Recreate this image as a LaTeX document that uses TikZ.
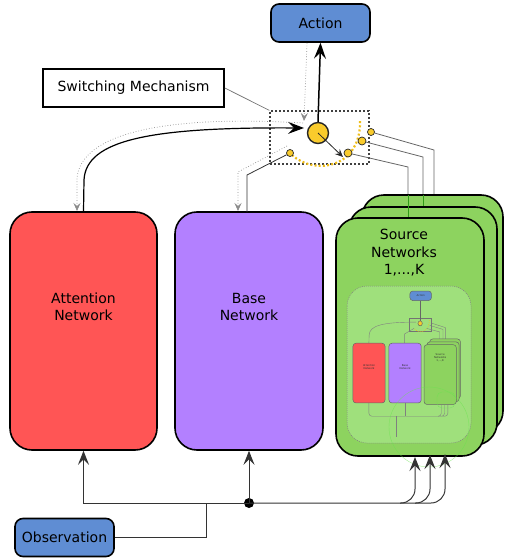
\documentclass[tikz,border=0pt]{standalone}
\usepackage{fontspec}
\setmainfont{DejaVu Sans}
\usetikzlibrary{arrows.meta}
\definecolor{boxblue}{HTML}{5F8DD3}
\definecolor{boxred}{HTML}{FF5555}
\definecolor{boxpurple}{HTML}{B380FF}
\definecolor{boxgreen}{HTML}{8DD35F}
\definecolor{innergreen}{HTML}{9FE07C}
\definecolor{brightgreen}{HTML}{44DD22}
\definecolor{gate}{HTML}{F9CB2C}
\definecolor{gatedots}{HTML}{EFBE1A}
\tikzset{
  netbox/.style={draw=black, line width=1.6pt, rounded corners=22pt,
    minimum width=147pt, minimum height=238pt, inner sep=0pt},
  nettext/.style={align=center, font=\fontsize{14}{17.5}\selectfont},
  iobox/.style={draw=black, line width=1.6pt, rounded corners=8pt, fill=boxblue,
    minimum width=99pt, minimum height=38pt, inner sep=0pt, font=\fontsize{14}{17}\selectfont},
  bigtip/.style={-{Stealth[length=16pt,width=12pt,inset=6pt]}},
  midtip/.style={-{Stealth[length=14pt,width=11pt,inset=5.5pt]}},
  smalltip/.style={-{Stealth[length=8pt,width=7pt,inset=3pt]}},
  feed/.style={draw=black!80, line width=1pt},
  ghost/.style={draw=black!45, line width=0.7pt, dotted},
  wire/.style={draw=black!60, line width=0.8pt},
  port/.style={circle, draw=black!85, fill=gate, line width=0.7pt, inner sep=0pt},
  minibox/.style={draw=black!60, line width=0.5pt, rounded corners=3pt},
  minitext/.style={font=\fontsize{2.6}{3}\selectfont, align=center, text=black!80}
}
\begin{document}
\begin{tikzpicture}[x=1pt, y=-1pt]
\useasboundingbox (0,0) rectangle (504,559);

% ---------- main blocks ----------
\node[iobox] (action) at (320.5,23) {Action};
\node[iobox] (obs) at (64.5,537.5) {Observation};
\node[draw=black, line width=1.6pt, fill=white, minimum width=181pt, minimum height=38pt,
  inner sep=0pt, font=\fontsize{14}{17}\selectfont] (label) at (133.5,88) {Switching Mechanism};

\node[netbox, fill=boxred] (att) at (83.5,331) {};
\node[nettext] (atttext) at (83.5,307) {Attention\\Network};
\node[netbox, fill=boxpurple, minimum width=148pt] (base) at (249,331) {};
\node[nettext] (basetext) at (249,307) {Base\\Network};

% switching gate
\node[draw=black!75, line width=1.3pt, dash pattern=on 2.2pt off 1.8pt,
  minimum width=99pt, minimum height=53pt, inner sep=0pt] (switch) at (319.5,137.5) {};
\draw[gatedots, line width=2.2pt, dash pattern=on 2pt off 2.2pt]
  (292,155) .. controls (315,176) and (362,168) .. (360,119);
\node[port, line width=1.4pt, minimum size=21pt] (gatec) at (318,133) {};
\node[port, minimum size=7pt] (pb) at (290,153) {};
\node[port, minimum size=8pt] (p3) at (348,153) {};
\node[port, minimum size=8pt] (p2) at (362,141) {};
\node[port, minimum size=7pt] (p1) at (371,132) {};
\draw[black!85, line width=0.8pt, smalltip] (gatec.center) -- (343,157);

\draw[black!55, line width=0.7pt] (label.east) -- (switch.north west);

% source network stack
\coordinate (s1top) at (434,195);
\coordinate (s2top) at (423,207);
\coordinate (s3top) at (408,218);
\draw[wire] (p1) -- (434,150) -- (s1top);
\draw[wire] (p2) -- (423,157) -- (s2top);
\draw[wire] (p3) -- (408,167) -- (s3top);

\node[netbox, fill=boxgreen, minimum width=141pt] (src1) at (432.5,314) {};
\draw[brightgreen!70!black, line width=0.8pt] (423,195) -- (423,207);
\node[netbox, fill=boxgreen, minimum width=148pt] (src2) at (423,326) {};
\draw[brightgreen!70!black, line width=0.8pt] (408,195) -- (408,218);
\node[netbox, fill=boxgreen, minimum width=148pt] (src3) at (410,337) {};
\node[nettext] (srctext) at (404,253) {Source\\Networks\\1,...,K};

% nested view of the whole model inside the source block
\draw[black!50, line width=0.5pt, dash pattern=on 1pt off 1pt, fill=innergreen,
  rounded corners=20pt] (347,286) rectangle (471,443);
\begin{scope}[shift={(350.8,290)}, xscale=0.218, yscale=0.251]
  \draw[minibox, fill=boxblue] (271,4) rectangle (370,42);
  \node[minitext] at (320.5,23) {Action};
  \draw[black!55, line width=0.4pt] (270,111) rectangle (369,164);
  \draw[black!60, line width=0.5pt] (318,42) -- (318,123);
  \draw[black!60, line width=0.5pt, fill=gate] (318,133) circle[x radius=10, y radius=10];
  \draw[gatedots, line width=0.5pt, dash pattern=on 1pt off 1pt]
    (292,155) .. controls (315,176) and (362,168) .. (360,119);
  \draw[black!50, line width=0.4pt] (83,212) -- (84,180) .. controls (86,140) and (150,128) .. (300,128);
  \draw[black!50, line width=0.4pt] (290,153) -- (247,175) -- (247,212);
  \draw[black!50, line width=0.4pt] (371,132) -- (434,150) -- (434,195);
  \draw[black!50, line width=0.4pt] (362,141) -- (423,157) -- (423,207);
  \draw[black!50, line width=0.4pt] (348,153) -- (408,167) -- (408,218);
  \draw[minibox, fill=boxred] (10,212) rectangle (157,450);
  \node[minitext] at (83.5,307) {Attention\\Network};
  \draw[minibox, fill=boxpurple] (175,212) rectangle (323,450);
  \node[minitext] at (249,307) {Base\\Network};
  \draw[minibox, fill=boxgreen] (362,195) rectangle (503,433);
  \draw[minibox, fill=boxgreen] (349,207) rectangle (497,445);
  \draw[minibox, fill=boxgreen] (336,218) rectangle (484,456);
  \node[minitext] at (410,270) {Source\\Networks\\1,...,K};
  \draw[black!50, line width=0.4pt, rounded corners=3pt]
    (83,450) -- (83,503) -- (415,503) -- (415,456);
  \draw[black!50, line width=0.4pt, rounded corners=3pt] (400,503) -- (430,503) -- (430,456);
  \draw[black!50, line width=0.4pt, rounded corners=3pt] (420,503) -- (445,503) -- (445,456);
  \draw[black!50, line width=0.4pt] (248,450) -- (248,503);
  \draw[black!50, line width=0.4pt] (206,503) -- (206,585);
\end{scope}
\draw[brightgreen!80, line width=0.4pt, opacity=0.6] (429,427) circle[radius=40];
\draw[brightgreen!80, line width=0.4pt, opacity=0.6, rounded corners=5pt] (437,392) rectangle (455,408);

% ---------- connectors at the top ----------
\draw[black, line width=1.5pt, bigtip] (gatec.north) -- (action.south);
\draw[ghost, smalltip] (307,43) -- (304,121);
\draw[black, line width=1.2pt, bigtip] (att.north) -- (84,180)
  .. controls (86,140) and (150,127) .. (304,128);
\draw[ghost, smalltip] (303,123) .. controls (150,114) and (78,138) .. (77,180) -- (77,211);
\draw[wire, black!80] (pb) -- (247,175) -- (247,212);
\draw[ghost, smalltip] (287,146) -- (238,172) -- (238,211);

% ---------- connectors at the bottom ----------
\node[circle, fill=black, inner sep=0pt, minimum size=10pt] (hub) at (249,503) {};
\draw[feed] (obs.east) -| (206,503);
\draw[feed, midtip] (hub.center) -| (att.south);
\draw[feed, midtip] (hub.center) -- (base.south);
\draw[feed, midtip, rounded corners=14pt] (hub.center) -| (415,457);
\draw[feed, midtip, rounded corners=14pt] (400,503) -| (430,455);
\draw[feed, midtip, rounded corners=14pt] (415,503) -| (445,454);
\end{tikzpicture}
\end{document}
